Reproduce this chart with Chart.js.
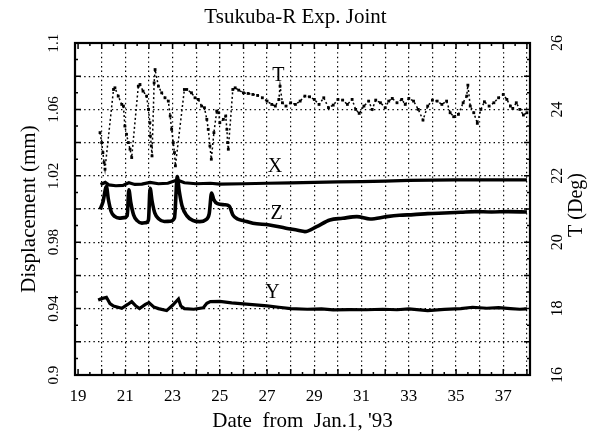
<!DOCTYPE html>
<html>
<head>
<meta charset="utf-8">
<script src="https://cdn.jsdelivr.net/npm/chart.js@4.4.1/dist/chart.umd.min.js"></script>
<style>
  html, body { margin: 0; padding: 0; background: #fff; }
  #wrap { width: 591px; height: 434px; }
</style>
</head>
<body>
<div id="wrap"><canvas id="joint"></canvas></div>
<script>
// X displacement (mm)
const xDays = [19.95, 20.15, 20.3, 20.6, 20.9, 21.15, 21.4, 21.7, 22.05, 22.4, 22.8, 23.2, 23.5, 24.0, 24.6,
  25.0, 26.0, 27.0, 28.0, 29.0, 30.0, 31.0, 32.0, 33.0, 34.0, 35.0, 36.0, 37.0, 38.0];
const xValues = [1.0148, 1.0160, 1.0145, 1.0140, 1.0142, 1.0158, 1.0148, 1.0150, 1.0160, 1.0152, 1.0155, 1.0175, 1.0158, 1.0152, 1.0155,
  1.0150, 1.0152, 1.0155, 1.0157, 1.0160, 1.0163, 1.0165, 1.0168, 1.0172, 1.0174, 1.0175, 1.0175, 1.0175, 1.0175];

// Y displacement (mm)
const yDays = [19.85, 20.0, 20.2, 20.35, 20.5, 20.85, 21.1, 21.27, 21.45, 21.6, 21.85, 22.0, 22.2, 22.4, 22.75,
  23.0, 23.25, 23.35, 23.5, 23.9, 24.3, 24.45, 24.6, 25.0, 25.5, 26.0, 26.5, 27.0, 27.5, 28.0, 28.7, 29.3,
  29.8, 30.5, 31.2, 31.9, 32.5, 33.0, 33.8, 34.5, 35.2, 35.7, 36.3, 36.8, 37.3, 37.7, 38.0];
const yValues = [0.9452, 0.9460, 0.9468, 0.9430, 0.9415, 0.9402, 0.9425, 0.9442, 0.9415, 0.9400, 0.9425, 0.9436, 0.9410, 0.9400, 0.9388,
  0.9420, 0.9458, 0.9415, 0.9400, 0.9396, 0.9405, 0.9432, 0.9442, 0.9444, 0.9435, 0.9428, 0.9422, 0.9416, 0.9408, 0.9400, 0.9396, 0.9398,
  0.9392, 0.9394, 0.9393, 0.9396, 0.9393, 0.9398, 0.9388, 0.9395, 0.9400, 0.9408, 0.9402, 0.9406, 0.9400, 0.9396, 0.9398];

// Z displacement (mm)
const zDays = [19.93, 20.05, 20.2, 20.28, 20.4, 20.55, 20.75, 20.95, 21.08, 21.15, 21.23, 21.35, 21.5, 21.7, 21.88,
  21.98, 22.05, 22.13, 22.25, 22.42, 22.65, 22.9, 23.08, 23.2, 23.28, 23.4, 23.6, 23.85, 24.15, 24.4, 24.55,
  24.65, 24.75, 24.9, 25.2, 25.4, 25.55, 25.75, 26.0, 26.4, 27.1, 27.8, 28.3, 28.6, 29.1, 29.66, 30.2, 30.8,
  31.36, 32.06, 32.6, 33.2, 33.8, 34.5, 35.2, 35.8, 36.5, 37.2, 38.0];
const zValues = [0.9998, 1.0040, 1.0135, 1.0060, 0.9985, 0.9955, 0.9945, 0.9948, 0.9960, 1.0115, 1.0040, 0.9965, 0.9930, 0.9915, 0.9918,
  0.9935, 1.0125, 1.0050, 0.9975, 0.9940, 0.9925, 0.9926, 0.9945, 1.0195, 1.0110, 1.0020, 0.9960, 0.9932, 0.9924, 0.9935, 0.9970,
  1.0096, 1.0055, 1.0032, 1.0026, 1.0018, 0.9965, 0.9940, 0.9930, 0.9914, 0.9904, 0.9884, 0.9872, 0.9864, 0.9894, 0.9934, 0.9944, 0.9954,
  0.9940, 0.9954, 0.9962, 0.9966, 0.9972, 0.9976, 0.9980, 0.9984, 0.9982, 0.9984, 0.9982];

// T temperature (deg), right axis
const tDays = [19.93, 20.0, 20.05, 20.1, 20.14, 20.5, 20.56, 20.7, 20.85, 20.92, 20.98, 21.05, 21.13, 21.2, 21.27,
  21.55, 21.62, 21.75, 21.9, 21.98, 22.04, 22.06, 22.1, 22.13, 22.22, 22.26, 22.4, 22.54, 22.68, 22.82, 22.9,
  22.96, 23.03, 23.08, 23.12, 23.5, 23.6, 23.8, 23.95, 24.09, 24.23, 24.35, 24.45, 24.51, 24.58, 24.64, 24.75,
  24.87, 24.95, 25.0, 25.15, 25.25, 25.3, 25.33, 25.36, 25.55, 25.65, 25.8, 26.0, 26.2, 26.4, 26.6, 26.8,
  27.0, 27.2, 27.35, 27.5, 27.55, 27.65, 27.8, 28.0, 28.2, 28.4, 28.6, 28.8, 29.0, 29.2, 29.4, 29.6, 29.8,
  30.0, 30.2, 30.4, 30.6, 30.75, 30.9, 31.1, 31.3, 31.45, 31.6, 31.8, 32.0, 32.15, 32.3, 32.5, 32.7, 32.85,
  33.0, 33.2, 33.4, 33.6, 33.8, 34.0, 34.2, 34.4, 34.6, 34.75, 34.9, 35.1, 35.3, 35.45, 35.5, 35.6, 35.75,
  35.9, 36.05, 36.2, 36.4, 36.6, 36.8, 37.0, 37.15, 37.3, 37.4, 37.55, 37.7, 37.85, 38.0];
const tValues = [23.3, 23.0, 22.7, 22.4, 22.2, 24.6, 24.65, 24.4, 24.15, 24.1, 23.5, 23.25, 23.0, 22.8, 22.55,
  24.7, 24.75, 24.55, 24.4, 24.0, 23.6, 23.2, 22.9, 22.6, 24.8, 25.2, 24.7, 24.5, 24.35, 24.25, 23.8,
  23.4, 23.0, 22.7, 22.3, 24.6, 24.6, 24.5, 24.35, 24.3, 24.1, 24.05, 23.7, 23.4, 22.9, 22.5, 23.3,
  23.95, 23.9, 23.6, 23.7, 23.8, 23.4, 23.0, 22.8, 24.6, 24.65, 24.58, 24.5, 24.48, 24.45, 24.42, 24.35,
  24.25, 24.15, 24.1, 24.3, 24.7, 24.2, 24.1, 24.2, 24.15, 24.25, 24.4, 24.38, 24.3, 24.15, 24.35, 24.05, 24.13,
  24.3, 24.28, 24.15, 24.3, 24.0, 23.88, 24.1, 24.25, 24.0, 24.28, 24.2, 24.05, 24.25, 24.33, 24.2, 24.3, 24.15,
  24.33, 24.25, 24.0, 23.68, 24.1, 24.28, 24.25, 24.15, 24.25, 23.9, 23.78, 23.85, 24.2, 24.4, 24.73, 24.1, 23.9,
  23.58, 24.0, 24.23, 24.1, 24.2, 24.35, 24.45, 24.3, 24.1, 24.03, 24.2, 24.0, 23.83, 23.9];

// curve labels inside the plot (left-axis units)
const curveNames = ['T', 'X', 'Z', 'Y'];
const curveDays = [27.48, 27.34, 27.4, 27.23];
const curveValues = [1.0804, 1.0253, 0.9973, 0.9497];

// tick labels
const dayTicks = [19, 20, 21, 22, 23, 24, 25, 26, 27, 28, 29, 30, 31, 32, 33, 34, 35, 36, 37, 38];
const mmTicks = [0.9, 0.92, 0.94, 0.96, 0.98, 1.0, 1.02, 1.04, 1.06, 1.08, 1.1];
const mmLabels = ['0.9', '', '0.94', '', '0.98', '', '1.02', '', '1.06', '', '1.1'];
const degTicks = [16, 18, 20, 22, 24, 26];

const serif = 'Liberation Serif';
const pairs = (days, vals) => days.map((d, i) => ({ x: d, y: vals[i] }));

const frameAndTicks = {
  id: 'frameAndTicks',
  afterDatasetsDraw(chart) {
    const { ctx, chartArea: a, scales } = chart;
    ctx.save();
    ctx.strokeStyle = '#000';
    ctx.lineWidth = 1.5;
    ctx.beginPath();
    for (let v = 19; v <= 38; v += 0.5) {
      const px = scales.x.getPixelForValue(v);
      const len = Number.isInteger(v) ? 6 : 3;
      ctx.moveTo(px, a.bottom); ctx.lineTo(px, a.bottom - len);
      ctx.moveTo(px, a.top); ctx.lineTo(px, a.top + len);
    }
    for (let i = 1; i < 20; i++) {
      const py = scales.y.getPixelForValue(0.9 + i * 0.01);
      const len = i % 2 === 0 ? 6 : 3;
      ctx.moveTo(a.left, py); ctx.lineTo(a.left + len, py);
      ctx.moveTo(a.right, py); ctx.lineTo(a.right - len, py);
    }
    ctx.stroke();
    ctx.lineWidth = 2.2;
    ctx.strokeRect(a.left, a.top, a.right - a.left, a.bottom - a.top);

    ctx.fillStyle = '#000';
    ctx.font = '20px "' + serif + '"';
    ctx.textAlign = 'center';
    ctx.textBaseline = 'middle';
    curveNames.forEach((n, i) => {
      ctx.fillText(n, scales.x.getPixelForValue(curveDays[i]), scales.y.getPixelForValue(curveValues[i]));
    });

    // right axis title, reading bottom to top like the left one
    const r = scales.yT;
    ctx.font = '20px "' + serif + '"';
    ctx.translate(r.right - 14, 205);
    ctx.rotate(-Math.PI / 2);
    ctx.fillText('T (Deg)', 0, 0);
    ctx.restore();
  }
};

const dots = [1.4, 3.2];

new Chart(document.getElementById('joint'), {
  type: 'line',
  data: {
    datasets: [
      { label: 'X', data: pairs(xDays, xValues), yAxisID: 'y', borderColor: '#000', borderWidth: 3.2, pointRadius: 0, tension: 0 },
      { label: 'Y', data: pairs(yDays, yValues), yAxisID: 'y', borderColor: '#000', borderWidth: 3.2, pointRadius: 0, tension: 0 },
      { label: 'Z', data: pairs(zDays, zValues), yAxisID: 'y', borderColor: '#000', borderWidth: 3.6, pointRadius: 0,
        cubicInterpolationMode: 'monotone' },
      { label: 'T', data: pairs(tDays, tValues), yAxisID: 'yT', borderColor: '#000', borderWidth: 1.5, borderDash: [2, 2.5],
        pointStyle: 'rect', pointRadius: 2, pointBackgroundColor: '#000', pointBorderWidth: 0, tension: 0 }
    ]
  },
  options: {
    responsive: true,
    maintainAspectRatio: false,
    animation: false,
    devicePixelRatio: 1,
    layout: { padding: 0 },
    plugins: {
      legend: { display: false },
      tooltip: { enabled: false },
      title: {
        display: true,
        text: 'Tsukuba-R Exp. Joint',
        color: '#000',
        font: { family: serif, size: 21, weight: 'normal' },
        padding: { top: 5, bottom: 12.8 }
      }
    },
    scales: {
      x: {
        type: 'linear',
        min: 18.87,
        max: 38.13,
        afterBuildTicks: s => { s.ticks = dayTicks.map(v => ({ value: v })); },
        afterFit: s => { s.height = 59; },
        border: { display: false, dash: dots },
        grid: {
          drawTicks: false,
          color: c => (c.tick && c.tick.value === 19 ? 'rgba(0,0,0,0)' : '#000'),
          lineWidth: 1.2
        },
        ticks: {
          autoSkip: false, maxRotation: 0, padding: 11, color: '#000',
          font: { family: serif, size: 17 },
          callback: v => (v % 2 === 1 ? String(v) : '')
        },
        title: {
          display: true, text: "Date  from  Jan.1, '93", color: '#000',
          font: { family: serif, size: 21 }, padding: { top: 0, bottom: 0 }
        }
      },
      y: {
        type: 'linear',
        position: 'left',
        min: 0.9,
        max: 1.1,
        afterBuildTicks: s => { s.ticks = mmTicks.map(v => ({ value: v })); },
        afterFit: s => { s.width = 75; },
        border: { display: false, dash: dots },
        grid: {
          drawTicks: false,
          color: '#000',
          lineWidth: 1.2
        },
        ticks: {
          autoSkip: false, minRotation: 90, maxRotation: 90, crossAlign: 'center', padding: 8, color: '#000',
          font: { family: serif, size: 15 },
          callback: (v, i) => mmLabels[i]
        },
        title: {
          display: true, text: 'Displacement (mm)', color: '#000',
          font: { family: serif, size: 21 }, padding: { top: 17, bottom: 0 }
        }
      },
      yT: {
        type: 'linear',
        position: 'right',
        min: 16,
        max: 26,
        afterBuildTicks: s => { s.ticks = degTicks.map(v => ({ value: v })); },
        afterFit: s => { s.width = 61; },
        border: { display: false },
        grid: { drawOnChartArea: false, drawTicks: false },
        ticks: {
          autoSkip: false, minRotation: 90, maxRotation: 90, crossAlign: 'center', padding: 20, color: '#000',
          font: { family: serif, size: 16 },
          callback: v => String(v)
        }
      }
    }
  },
  plugins: [frameAndTicks]
});
</script>
</body>
</html>
